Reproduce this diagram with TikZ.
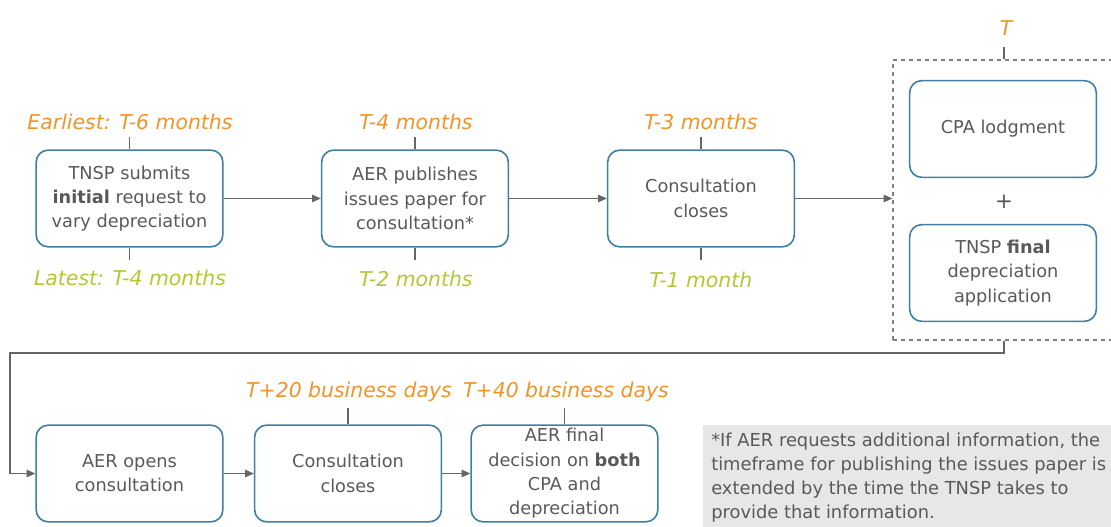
\documentclass[tikz,border=0pt]{standalone}
\usepackage{fontspec}
\setmainfont{DejaVu Sans}
\usetikzlibrary{arrows.meta}
\definecolor{boxblue}{HTML}{3F7FA3}
\definecolor{txtgray}{HTML}{595959}
\definecolor{lineg}{HTML}{666666}
\definecolor{dashg}{HTML}{808080}
\definecolor{orangelbl}{HTML}{F0942A}
\definecolor{greenlbl}{HTML}{B2C733}
\definecolor{notefill}{HTML}{E7E7E7}
\begin{document}
\begin{tikzpicture}[x=0.75pt,y=-0.75pt,
  stepbox/.style={draw=boxblue, line width=1.2pt, rounded corners=9pt,
    minimum width=140pt, minimum height=72.5pt, inner sep=0pt,
    align=center, text=txtgray, font=\fontsize{13.3}{18.2}\selectfont},
  conn/.style={draw=lineg, line width=0.9pt, -{Triangle[length=6.5pt,width=5.5pt]}},
  tick/.style={draw=lineg, line width=0.8pt},
  earlylbl/.style={text=orangelbl, font=\fontsize{15.3}{18}\selectfont\itshape, inner sep=0pt},
  latelbl/.style={text=greenlbl, font=\fontsize{15.3}{18}\selectfont\itshape, inner sep=0pt},
  groupbox/.style={draw=dashg, dashed, line width=0.9pt, minimum width=166.5pt,
    minimum height=210pt, inner sep=0pt}]
\useasboundingbox (0,0) rectangle (1111,527);

% first row of steps
\node[stepbox] (b1) at (129.5,198.5) {TNSP submits\\\textbf{initial} request to\\vary depreciation};
\node[stepbox] (b2) at (415,198.5) {AER publishes\\issues paper for\\consultation*};
\node[stepbox] (b3) at (701,198.5) {Consultation\\closes};

% lodgment group
\node[groupbox] (grp) at (1004,200) {};
\node[stepbox] (cpa) at (1003,129) {CPA lodgment};
\node[text=txtgray, font=\fontsize{16}{16}\selectfont, inner sep=0pt] (plus) at (1004,202) {+};
\node[stepbox] (fin) at (1003,273) {TNSP \textbf{final}\\depreciation\\application};

% second row of steps
\node[stepbox] (b4) at (129.5,473.5) {AER opens\\consultation};
\node[stepbox] (b5) at (348,473.5) {Consultation\\closes};
\node[stepbox] (b6) at (564.5,473.5) {AER final\\decision on \textbf{both}\\CPA and\\depreciation};

% timing labels
\node[earlylbl] (l1a) at (130,122) {Earliest: T-6 months};
\node[latelbl]  (l1b) at (130,278) {Latest: T-4 months};
\node[earlylbl] (l2a) at (416,122) {T-4 months};
\node[latelbl]  (l2b) at (416,279) {T-2 months};
\node[earlylbl] (l3a) at (701,122) {T-3 months};
\node[latelbl]  (l3b) at (701,280) {T-1 month};
\node[earlylbl] (lT)  at (1006,28) {T};
\node[earlylbl] (l5)  at (349,392) {T+20 business days};
\node[earlylbl] (l6)  at (566,392) {T+40 business days};

% ticks from labels to boxes
\draw[tick] (b1.north) -- ++(0,-12);
\draw[tick] (b1.south) -- ++(0,12);
\draw[tick] (b2.north) -- ++(0,-12);
\draw[tick] (b2.south) -- ++(0,12);
\draw[tick] (b3.north) -- ++(0,-12);
\draw[tick] (b3.south) -- ++(0,12);
\draw[tick] (grp.north) -- ++(0,-12);
\draw[tick] (b5.north) -- ++(0,-16);
\draw[tick] (b6.north) -- ++(0,-16);

% connectors
\draw[conn] (b1) -- (b2);
\draw[conn] (b2) -- (b3);
\draw[conn] (b3.east) -- (b3.east -| grp.west);
\coordinate (turn) at (10,353);
\draw[conn] (grp.south) |- (turn) |- (b4.west);
\draw[conn] (b4) -- (b5);
\draw[conn] (b5) -- (b6);

% footnote
\fill[notefill] (703,425) rectangle (1115,530);
\node[anchor=north west, inner sep=0pt, text=txtgray, align=left,
  font=\fontsize{13.4}{18}\selectfont] (note) at (711,433)
  {*If AER requests additional information, the\\
   timeframe for publishing the issues paper is\\
   extended by the time the TNSP takes to\\
   provide that information.};
\end{tikzpicture}
\end{document}
